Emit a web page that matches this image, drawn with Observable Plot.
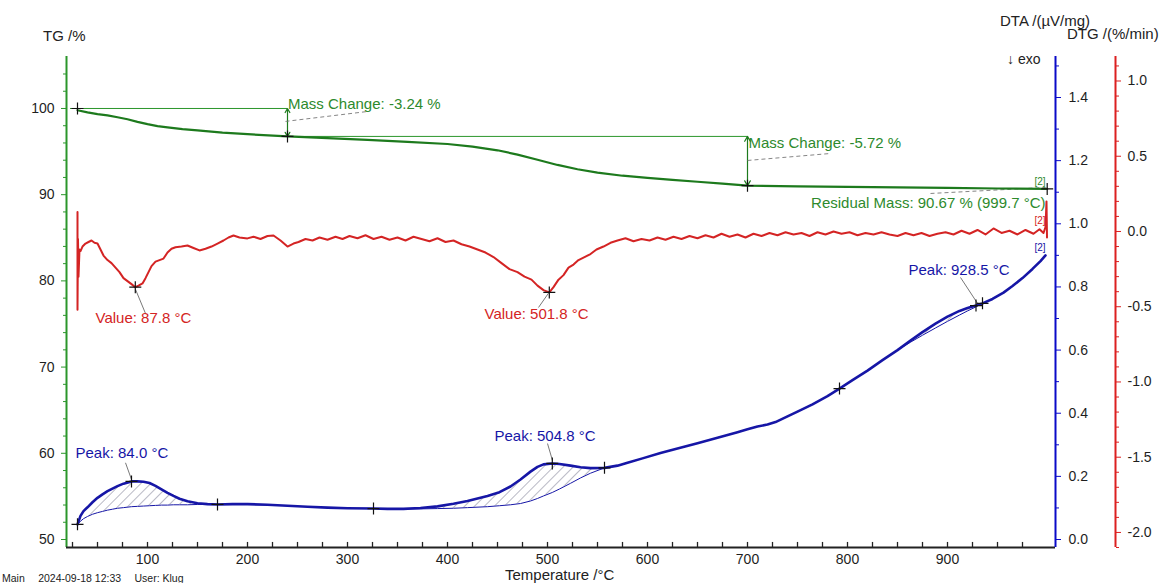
<!DOCTYPE html>
<html>
<head>
<meta charset="utf-8">
<script src="https://cdn.jsdelivr.net/npm/d3@7"></script>
<script src="https://cdn.jsdelivr.net/npm/@observablehq/plot@0.6"></script>
<style>
  body { margin: 0; background: #fff; }
  #chart { position: relative; width: 1165px; height: 583px; overflow: hidden;
           font-family: "Liberation Sans", Arial, sans-serif; color: #222; background: #fff; }
  #chart svg { position: absolute; left: 0; top: 0; }
  .lbl { position: absolute; white-space: nowrap; line-height: 1; }
</style>
</head>
<body>
<div id="chart"></div>
<script>
// ---- TG (mass, %) ----
const tgTemp = [30, 40, 50, 60, 70, 80, 90, 100, 110, 120, 135, 150, 175, 200, 240, 280, 320, 360, 400, 425, 450, 470, 490, 510, 530, 550, 575, 600, 625, 650, 675, 700, 750, 800, 850, 900, 950, 999.7];
const tgMass = [99.8, 99.55, 99.35, 99.2, 98.98, 98.75, 98.45, 98.18, 97.95, 97.8, 97.6, 97.45, 97.2, 97.02, 96.76, 96.55, 96.35, 96.12, 95.88, 95.58, 95.15, 94.65, 94.05, 93.45, 92.95, 92.55, 92.2, 91.95, 91.72, 91.5, 91.28, 91.04, 90.96, 90.9, 90.84, 90.78, 90.72, 90.67];

// mass-change evaluation steps
const stepTemp = [30, 240, 700];
const stepMass = [100, 96.76, 91.04];
const residualTemp = 999.7;
const residualMass = 90.67;

// ---- DTA (µV/mg) ----
const dtaTemp = [30, 33, 36, 40, 45, 50, 55, 60, 65, 70, 76, 84, 90, 96, 102, 108, 114, 120, 126, 132, 140, 150, 160, 170, 185, 200, 220, 240, 260, 280, 300, 326, 340, 356, 373, 390, 406, 420, 440, 452, 463, 473, 483, 490, 496, 504.8, 512, 523, 533, 543, 557, 570, 580, 595, 613, 630, 650, 670, 690, 700, 710, 720, 728, 740, 750, 765, 780, 792, 805, 820, 835, 850, 863, 875, 888, 900, 912, 920, 928.5, 935, 945, 956, 965, 975, 985, 993, 998];
const dtaSignal = [0.048, 0.075, 0.090, 0.102, 0.118, 0.132, 0.143, 0.153, 0.161, 0.169, 0.177, 0.184, 0.184, 0.183, 0.179, 0.170, 0.159, 0.148, 0.138, 0.129, 0.121, 0.115, 0.112, 0.111, 0.112, 0.112, 0.110, 0.107, 0.104, 0.101, 0.099, 0.098, 0.097, 0.097, 0.100, 0.105, 0.113, 0.122, 0.138, 0.150, 0.168, 0.190, 0.215, 0.230, 0.238, 0.241, 0.239, 0.234, 0.229, 0.226, 0.227, 0.234, 0.243, 0.257, 0.274, 0.288, 0.305, 0.322, 0.340, 0.349, 0.358, 0.364, 0.372, 0.390, 0.405, 0.428, 0.454, 0.478, 0.505, 0.535, 0.568, 0.600, 0.630, 0.657, 0.684, 0.706, 0.724, 0.733, 0.741, 0.748, 0.762, 0.782, 0.803, 0.828, 0.857, 0.882, 0.900];

// integration baselines of the DTA peaks (same temperatures as the curve)
const base1Temp = [30, 33, 36, 40, 45, 50, 55, 60, 65, 70, 76, 84, 90, 96, 102, 108, 114, 120, 126, 132, 140, 150, 160, 170];
const base1Signal = [0.048, 0.058, 0.066, 0.073, 0.080, 0.085, 0.089, 0.093, 0.096, 0.099, 0.101, 0.104, 0.105, 0.106, 0.107, 0.108, 0.109, 0.109, 0.110, 0.110, 0.110, 0.111, 0.111, 0.111];
const base2Temp = [326, 340, 356, 373, 390, 406, 420, 440, 452, 463, 473, 483, 490, 496, 504.8, 512, 523, 533, 543, 557];
const base2Signal = [0.098, 0.097, 0.097, 0.097, 0.098, 0.099, 0.101, 0.104, 0.107, 0.110, 0.114, 0.122, 0.130, 0.138, 0.149, 0.160, 0.178, 0.195, 0.210, 0.227];
const base3Temp = [850, 863, 875, 888, 900, 912, 920, 928.5, 935];
const base3Signal = [0.600, 0.625, 0.647, 0.670, 0.691, 0.711, 0.724, 0.737, 0.748];

const dtaPeakTemp = [84.0, 504.8, 928.5];
const dtaPeakSignal = [0.184, 0.241, 0.741];
const dtaLimitTemp = [30, 170, 326, 557, 792, 935];
const dtaLimitSignal = [0.048, 0.111, 0.098, 0.227, 0.478, 0.748];

// ---- DTG (%/min) ----
const dtgTemp = [30, 30, 30.5, 31, 32, 33, 35, 38, 41, 44, 47, 50, 53, 56, 60, 64, 68, 72, 76, 80, 84, 87.8, 91, 95, 98, 101, 104, 108, 112, 116, 120, 124, 128, 134, 140, 146, 152, 158, 164, 170, 176, 181, 186, 192, 200, 206, 213, 220, 226, 233, 240, 246, 251, 258, 265, 272, 280, 288, 295, 302, 310, 318, 326, 334, 342, 350, 358, 366, 374, 382, 390, 398, 406, 414, 422, 430, 438, 446, 454, 462, 470, 477, 484, 490, 496, 501.8, 506, 511, 516, 521, 526, 531, 537, 543, 549, 556, 563, 570, 578, 586, 594, 602, 610, 618, 626, 634, 642, 650, 658, 666, 674, 682, 690, 698, 706, 714, 722, 730, 738, 746, 754, 762, 770, 778, 786, 794, 802, 810, 818, 826, 834, 842, 850, 858, 866, 874, 882, 890, 898, 906, 914, 922, 930, 938, 946, 954, 962, 970, 978, 986, 992, 996, 998, 999, 999.5];
const dtgRate = [0.13, -0.52, -0.05, -0.30, -0.12, -0.13, -0.10, -0.08, -0.07, -0.06, -0.075, -0.08, -0.12, -0.16, -0.19, -0.21, -0.24, -0.27, -0.31, -0.33, -0.35, -0.37, -0.36, -0.345, -0.31, -0.27, -0.23, -0.20, -0.19, -0.18, -0.14, -0.115, -0.105, -0.10, -0.093, -0.11, -0.126, -0.115, -0.10, -0.08, -0.06, -0.04, -0.027, -0.04, -0.046, -0.035, -0.05, -0.03, -0.027, -0.06, -0.10, -0.08, -0.07, -0.05, -0.06, -0.04, -0.055, -0.035, -0.05, -0.03, -0.045, -0.025, -0.05, -0.035, -0.055, -0.04, -0.06, -0.035, -0.05, -0.065, -0.045, -0.07, -0.06, -0.085, -0.10, -0.12, -0.14, -0.17, -0.21, -0.25, -0.27, -0.30, -0.32, -0.36, -0.39, -0.405, -0.37, -0.32, -0.29, -0.24, -0.22, -0.19, -0.17, -0.15, -0.12, -0.10, -0.075, -0.06, -0.045, -0.065, -0.05, -0.06, -0.04, -0.055, -0.035, -0.05, -0.03, -0.045, -0.025, -0.04, -0.015, -0.035, -0.02, -0.04, -0.015, -0.03, -0.01, -0.025, -0.005, -0.02, -0.01, -0.03, -0.005, -0.02, 0.0, -0.015, -0.005, -0.025, -0.01, -0.02, -0.005, -0.02, -0.03, -0.01, -0.025, -0.01, -0.03, -0.015, -0.005, -0.02, 0.005, -0.015, 0.01, -0.02, 0.02, -0.01, 0.005, -0.02, 0.01, -0.015, 0.015, -0.01, 0.03, 0.2, -0.04];

const dtgMinTemp = [87.8, 501.8];
const dtgMinRate = [-0.37, -0.405];

// ---- axes ----
const xMajor = [100, 200, 300, 400, 500, 600, 700, 800, 900];
const xMinor = d3.range(25, 1000, 25);
const tgMajor = [50, 60, 70, 80, 90, 100];
const tgMinor = d3.range(52, 106, 2).filter(v => v % 10 !== 0);
const dtaMajor = [0.0, 0.2, 0.4, 0.6, 0.8, 1.0, 1.2, 1.4];
const dtaMinor = [0.1, 0.3, 0.5, 0.7, 0.9, 1.1, 1.3, 1.5];
const dtgMajor = [-2.0, -1.5, -1.0, -0.5, 0.0, 0.5, 1.0];
const dtgMinor = d3.range(-21, 12).map(v => v / 10).filter(v => Math.abs(v * 2 - Math.round(v * 2)) > 1e-6);

// ---- layout & styles ----
const W = 1165, H = 583;
const M = {top: 56, right: 110, bottom: 36, left: 66};
const xDomain = [19, 1008];
const tgDomain = [49.072, 106.03];
const dtaDomain = [-0.0253, 1.5299];
const dtgDomain = [-2.1, 1.1628];
const FONT = '"Liberation Sans", Arial, sans-serif';
const GREEN = "#1d7a1d", GREEN_AX = "#2b962b", GREEN_TXT = "#2d8a2d";
const BLUE = "#1616a6", BLUE_AX = "#0a0ac8";
const RED = "#d42424", RED_AX = "#dc2020";
const INK = "#1e1e1e";
const AXIS = "#222";

// marker shape: a thin "+"
const cross = {
  draw(ctx, size) {
    const r = Math.sqrt(size / Math.PI);
    ctx.moveTo(-r, 0); ctx.lineTo(r, 0);
    ctx.moveTo(0, -r); ctx.lineTo(0, r);
  }
};

function frame(yDomain, marks) {
  return Plot.plot({
    width: W, height: H,
    marginTop: M.top, marginRight: M.right, marginBottom: M.bottom, marginLeft: M.left,
    x: {domain: xDomain, axis: null},
    y: {domain: yDomain, axis: null},
    style: {fontFamily: FONT, fontSize: "14px", background: "transparent", overflow: "visible", color: INK},
    marks
  });
}

function addHatch(svg, id, color) {
  const ns = "http://www.w3.org/2000/svg";
  const defs = document.createElementNS(ns, "defs");
  const pat = document.createElementNS(ns, "pattern");
  pat.setAttribute("id", id);
  pat.setAttribute("patternUnits", "userSpaceOnUse");
  pat.setAttribute("width", "7");
  pat.setAttribute("height", "7");
  pat.setAttribute("patternTransform", "rotate(45)");
  const ln = document.createElementNS(ns, "line");
  ln.setAttribute("x1", "0"); ln.setAttribute("y1", "0");
  ln.setAttribute("x2", "0"); ln.setAttribute("y2", "7");
  ln.setAttribute("stroke", color);
  ln.setAttribute("stroke-width", "0.8");
  pat.appendChild(ln);
  defs.appendChild(pat);
  svg.insertBefore(defs, svg.firstChild);
}

const zip = (xs, ys) => xs.map((x, i) => ({x, y: ys[i]}));

// ---- TG layer (left axis, mass curve) ----
const tg = zip(tgTemp, tgMass);
const steps = stepTemp.slice(0, -1).map((t, i) => ({
  x0: i === 0 ? 23 : t, x: stepTemp[i + 1], from: stepMass[i], to: stepMass[i + 1],
  label: `Mass Change: ${(stepMass[i + 1] - stepMass[i]).toFixed(2)} %`
}));
const stepLabelAt = [[240.5, 100.45], [701, 95.94]];
const stepLeader = [[238, 98.5, 320, 99.65], [700, 93.97, 783, 94.78]];
const tgMarks = zip([...stepTemp, residualTemp], [...stepMass, residualMass]);

const tgPlot = frame(tgDomain, [
  Plot.ruleX([xDomain[0]], {stroke: GREEN_AX, strokeWidth: 2}),
  Plot.axisY({anchor: "left", ticks: tgMinor, tickSize: 3, tickFormat: () => "", stroke: GREEN_AX, label: null}),
  Plot.axisY({anchor: "left", ticks: tgMajor, tickSize: 5, tickPadding: 7, tickFormat: d => String(d), stroke: GREEN_AX, fill: INK, fontSize: 14, label: null}),
  // horizontal reference levels of each step
  Plot.ruleY(steps, {y: "from", x1: "x0", x2: "x", stroke: GREEN_AX, strokeWidth: 1}),
  // double-headed arrows for the mass changes
  Plot.arrow(steps, {x1: "x", x2: "x", y1: d => (d.from + d.to) / 2, y2: "from", stroke: GREEN, strokeWidth: 1.2, headLength: 7}),
  Plot.arrow(steps, {x1: "x", x2: "x", y1: d => (d.from + d.to) / 2, y2: "to", stroke: GREEN, strokeWidth: 1.2, headLength: 7}),
  Plot.link(stepLeader, {x1: d => d[0], y1: d => d[1], x2: d => d[2], y2: d => d[3], stroke: "#777", strokeWidth: 0.9, strokeDasharray: "4,3"}),
  Plot.link([[883, 90.14, 998, 90.84]], {x1: d => d[0], y1: d => d[1], x2: d => d[2], y2: d => d[3], stroke: "#777", strokeWidth: 0.9, strokeDasharray: "4,3"}),
  Plot.line(tg, {x: "x", y: "y", stroke: GREEN, strokeWidth: 2.2}),
  Plot.dot(tgMarks, {x: "x", y: "y", symbol: cross, r: 6, fill: "none", stroke: "#111", strokeWidth: 1.2}),
  Plot.text(steps, {x: (d, i) => stepLabelAt[i][0], y: (d, i) => stepLabelAt[i][1], text: "label", textAnchor: "start", fill: GREEN_TXT, fontSize: 15}),
  Plot.text([`Residual Mass: ${residualMass.toFixed(2)} % (${residualTemp.toFixed(1)} °C)`], {x: 998, y: 88.98, text: d => d, textAnchor: "end", fill: GREEN_TXT, fontSize: 15}),
  Plot.text(["[2]"], {x: 998, y: 91.45, text: d => d, textAnchor: "end", fill: GREEN_TXT, fontSize: 10})
]);

// ---- DTA layer (topmost: also carries the temperature axis) ----
const dta = zip(dtaTemp, dtaSignal);
const sigAt = new Map(dtaTemp.map((t, i) => [t, dtaSignal[i]]));
const bases = [
  [base1Temp, base1Signal], [base2Temp, base2Signal], [base3Temp, base3Signal]
].flatMap(([ts, vs], k) => ts.map((t, i) => ({peak: k, x: t, base: vs[i], sig: sigAt.get(t)})));
const dtaPeaks = dtaPeakTemp.map((t, i) => ({x: t, y: dtaPeakSignal[i], label: `Peak: ${t.toFixed(1)} °C`}));
const dtaLabelAt = [[28, 0.272], [447, 0.326], [861, 0.852]];
const dtaLeader = [[78, 0.243, 84, 0.19], [500, 0.304, 505, 0.25], [913, 0.83, 930, 0.748]];
// inward temperature ticks, about 5 px tall on the DTA scale
const xTickTop = dtaDomain[0] + 0.016;

const dtaPlot = frame(dtaDomain, [
  // temperature axis: baseline, inward ticks every 25 °C, labels every 100 °C
  Plot.ruleY([dtaDomain[0]], {stroke: AXIS, strokeWidth: 2}),
  Plot.ruleX(xMinor, {x: d => d, y1: dtaDomain[0], y2: xTickTop, stroke: AXIS, strokeWidth: 1.3}),
  Plot.axisX({ticks: xMajor, tickSize: 0, tickPadding: 7, tickFormat: d => String(d), fill: INK, fontSize: 14, label: null}),
  Plot.ruleX([xDomain[1]], {stroke: BLUE_AX, strokeWidth: 2}),
  Plot.axisY({anchor: "right", ticks: dtaMinor, tickSize: 3, tickFormat: () => "", stroke: BLUE_AX, label: null}),
  Plot.axisY({anchor: "right", ticks: dtaMajor, tickSize: 5, tickPadding: 8, tickFormat: d => d.toFixed(1), stroke: BLUE_AX, fill: INK, fontSize: 14, label: null}),
  Plot.areaY(bases, {x: "x", y1: "base", y2: "sig", z: "peak", fill: "url(#hatchDTA)"}),
  Plot.line(bases, {x: "x", y: "base", z: "peak", stroke: BLUE, strokeWidth: 1}),
  Plot.line(dta, {x: "x", y: "y", stroke: BLUE, strokeWidth: 2.6}),
  Plot.link(dtaLeader, {x1: d => d[0], y1: d => d[1], x2: d => d[2], y2: d => d[3], stroke: "#555", strokeWidth: 0.8}),
  Plot.dot(dtaPeaks, {x: "x", y: "y", symbol: cross, r: 6, fill: "none", stroke: "#111", strokeWidth: 1.2}),
  Plot.dot(zip(dtaLimitTemp, dtaLimitSignal), {x: "x", y: "y", symbol: cross, r: 6, fill: "none", stroke: "#111", strokeWidth: 1.2}),
  Plot.text(dtaPeaks, {x: (d, i) => dtaLabelAt[i][0], y: (d, i) => dtaLabelAt[i][1], text: "label", textAnchor: "start", fill: BLUE, fontSize: 15}),
  Plot.text(["[2]"], {x: 998, y: 0.925, text: d => d, textAnchor: "end", fill: BLUE, fontSize: 10})
]);
addHatch(dtaPlot, "hatchDTA", "#50506e");

// ---- DTG layer ----
const dtg = zip(dtgTemp, dtgRate);
const dtgMins = dtgMinTemp.map((t, i) => ({x: t, y: dtgMinRate[i], label: `Value: ${t.toFixed(1)} °C`}));
const dtgLabelAt = [[48, -0.578], [437, -0.551]];
const dtgLeader = [[88, -0.385, 98, -0.545], [501, -0.41, 491, -0.505]];

const dtgPlot = frame(dtgDomain, [
  Plot.ruleX([xDomain[1]], {dx: 60, stroke: RED_AX, strokeWidth: 2}),
  Plot.axisY({anchor: "right", dx: 60, ticks: dtgMinor, tickSize: 3, tickFormat: () => "", stroke: RED_AX, label: null}),
  Plot.axisY({anchor: "right", dx: 60, ticks: dtgMajor, tickSize: 5, tickPadding: 7, tickFormat: d => d.toFixed(1), stroke: RED_AX, fill: INK, fontSize: 14, label: null}),
  Plot.line(dtg, {x: "x", y: "y", stroke: RED, strokeWidth: 2}),
  Plot.link(dtgLeader, {x1: d => d[0], y1: d => d[1], x2: d => d[2], y2: d => d[3], stroke: "#555", strokeWidth: 0.8}),
  Plot.dot(dtgMins, {x: "x", y: "y", symbol: cross, r: 6, fill: "none", stroke: "#111", strokeWidth: 1.2}),
  Plot.text(dtgMins, {x: (d, i) => dtgLabelAt[i][0], y: (d, i) => dtgLabelAt[i][1], text: "label", textAnchor: "start", fill: RED, fontSize: 15}),
  Plot.text(["[2]"], {x: 998, y: 0.07, text: d => d, textAnchor: "end", fill: RED, fontSize: 10})
]);

const chart = document.getElementById("chart");
chart.append(tgPlot, dtgPlot, dtaPlot);

// titles and footer
const labels = [
  {text: "TG /%", left: 43, top: 27.7, size: 15},
  {text: "DTA /(µV/mg)", left: 1000, top: 12.7, size: 15},
  {text: "DTG /(%/min)", left: 1067, top: 25.7, size: 15},
  {text: "↓ exo", left: 1007, top: 52, size: 14},
  {text: "Temperature /°C", left: 505, top: 567, size: 15},
  {text: "Main\u2003 2024-09-18 12:33\u2003 User: Klug", left: 2, top: 572.5, size: 10.5}
];
for (const l of labels) {
  const div = document.createElement("div");
  div.className = "lbl";
  div.textContent = l.text;
  div.style.left = l.left + "px";
  div.style.top = l.top + "px";
  div.style.fontSize = l.size + "px";
  chart.appendChild(div);
}
</script>
</body>
</html>
